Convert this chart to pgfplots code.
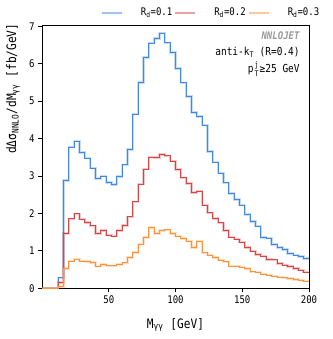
\documentclass[border=0pt]{standalone}
\usepackage{fontspec}
\setmainfont{DejaVu Sans Mono}[FakeStretch=0.86]
\usepackage{pgfplots}
\pgfplotsset{compat=1.18}
\definecolor{cblue}{RGB}{66,136,222}
\definecolor{cred}{RGB}{214,70,70}
\definecolor{corange}{RGB}{255,146,60}

\begin{document}
\begin{tikzpicture}
\useasboundingbox (-42pt,-50.7pt) rectangle (290pt,288.3pt);
\begin{axis}[
    at={(0,0)}, anchor=south west,
    width=267pt, height=263pt, scale only axis,
    xmin=0, xmax=200, ymin=0, ymax=7.03,
    xtick={50,100,150,200}, ytick={0,1,2,3,4,5,6,7},
    tick align=outside, major tick length=4pt,
    xtick pos=bottom, ytick pos=left,
    axis line style={line width=0.8pt},
    tick style={line width=0.8pt, black},
    /pgf/number format/assume math mode=true,
    ticklabel style={font=\fontsize{10.5}{12}\selectfont},
    xlabel={M\textsubscript{γγ} [GeV]},
    ylabel={dΔσ\textsubscript{NNLO}/dM\textsubscript{γγ}  [fb/GeV]},
    label style={font=\fontsize{13}{15}\selectfont},
    xlabel style={at={(axis description cs:0.5,-0.1395)}, anchor=center},
    ylabel style={at={(axis description cs:-0.1086,1.02)}, anchor=east},
    legend columns=3,
    legend style={at={(1.058,1.048)}, anchor=east, draw=none, fill=none,
        font=\fontsize{10.5}{12}\selectfont,
        /tikz/every odd column/.append style={column sep=16pt}},
    legend image code/.code={\draw[#1, line width=2pt, opacity=0.5] (0pt,0pt) -- (20pt,0pt);},
]
% blue, R_d=0.1
\addplot[const plot mark left, cblue, line width=2.4pt, opacity=0.3, forget plot] coordinates {
(0,0)(4,0)(8,0)(12,0.28)(16,2.88)(20,3.77)(24,3.93)(28,3.63)(32,3.48)(36,3.21)
(40,2.93)(44,3.00)(48,2.83)(52,2.77)(56,2.99)(60,3.30)(64,3.71)(68,4.66)(72,5.50)(76,6.17)
(80,6.55)(84,6.68)(88,6.82)(92,6.56)(96,6.30)(100,5.88)(104,5.49)(108,5.13)(112,4.70)(116,4.59)
(120,4.36)(124,3.66)(128,3.37)(132,3.08)(136,2.82)(140,2.53)(144,2.37)(148,2.22)(152,1.97)(156,1.79)
(160,1.66)(164,1.36)(168,1.34)(172,1.17)(176,1.09)(180,1.04)(184,0.93)(188,0.89)(192,0.85)(196,0.80)(200,0.80)};
\addplot[const plot mark left, cblue, line width=0.9pt] coordinates {
(0,0)(4,0)(8,0)(12,0.28)(16,2.88)(20,3.77)(24,3.93)(28,3.63)(32,3.48)(36,3.21)
(40,2.93)(44,3.00)(48,2.83)(52,2.77)(56,2.99)(60,3.30)(64,3.71)(68,4.66)(72,5.50)(76,6.17)
(80,6.55)(84,6.68)(88,6.82)(92,6.56)(96,6.30)(100,5.88)(104,5.49)(108,5.13)(112,4.70)(116,4.59)
(120,4.36)(124,3.66)(128,3.37)(132,3.08)(136,2.82)(140,2.53)(144,2.37)(148,2.22)(152,1.97)(156,1.79)
(160,1.66)(164,1.36)(168,1.34)(172,1.17)(176,1.09)(180,1.04)(184,0.93)(188,0.89)(192,0.85)(196,0.80)(200,0.80)};
\addlegendentry{R\textsubscript{d}=0.1}
% red, R_d=0.2
\addplot[const plot mark left, cred, line width=2.4pt, opacity=0.3, forget plot] coordinates {
(0,0)(4,0)(8,0)(12,0.15)(16,1.46)(20,1.86)(24,1.99)(28,1.85)(32,1.76)(36,1.67)
(40,1.47)(44,1.54)(48,1.42)(52,1.39)(56,1.54)(60,1.68)(64,1.91)(68,2.31)(72,2.78)(76,3.19)
(80,3.51)(84,3.50)(88,3.58)(92,3.54)(96,3.40)(100,3.18)(104,2.95)(108,2.80)(112,2.56)(116,2.60)
(120,2.22)(124,2.02)(128,1.87)(132,1.75)(136,1.55)(140,1.37)(144,1.31)(148,1.23)(152,1.09)(156,0.99)
(160,0.90)(164,0.86)(168,0.77)(172,0.76)(176,0.66)(180,0.62)(184,0.58)(188,0.53)(192,0.49)(196,0.43)(200,0.43)};
\addplot[const plot mark left, cred, line width=0.9pt] coordinates {
(0,0)(4,0)(8,0)(12,0.15)(16,1.46)(20,1.86)(24,1.99)(28,1.85)(32,1.76)(36,1.67)
(40,1.47)(44,1.54)(48,1.42)(52,1.39)(56,1.54)(60,1.68)(64,1.91)(68,2.31)(72,2.78)(76,3.19)
(80,3.51)(84,3.50)(88,3.58)(92,3.54)(96,3.40)(100,3.18)(104,2.95)(108,2.80)(112,2.56)(116,2.60)
(120,2.22)(124,2.02)(128,1.87)(132,1.75)(136,1.55)(140,1.37)(144,1.31)(148,1.23)(152,1.09)(156,0.99)
(160,0.90)(164,0.86)(168,0.77)(172,0.76)(176,0.66)(180,0.62)(184,0.58)(188,0.53)(192,0.49)(196,0.43)(200,0.43)};
\addlegendentry{R\textsubscript{d}=0.2}
% orange, R_d=0.3
\addplot[const plot mark left, corange, line width=2.4pt, opacity=0.3, forget plot] coordinates {
(0,0)(4,0)(8,0)(12,0.05)(16,0.53)(20,0.73)(24,0.78)(28,0.73)(32,0.72)(36,0.69)
(40,0.59)(44,0.64)(48,0.60)(52,0.60)(56,0.64)(60,0.68)(64,0.82)(68,0.96)(72,1.18)(76,1.36)
(80,1.62)(84,1.47)(88,1.55)(92,1.56)(96,1.47)(100,1.39)(104,1.33)(108,1.26)(112,1.09)(116,1.26)
(120,0.95)(124,0.89)(128,0.82)(132,0.75)(136,0.71)(140,0.59)(144,0.59)(148,0.57)(152,0.53)(156,0.44)
(160,0.43)(164,0.38)(168,0.35)(172,0.33)(176,0.30)(180,0.28)(184,0.26)(188,0.24)(192,0.22)(196,0.19)(200,0.19)};
\addplot[const plot mark left, corange, line width=0.9pt] coordinates {
(0,0)(4,0)(8,0)(12,0.05)(16,0.53)(20,0.73)(24,0.78)(28,0.73)(32,0.72)(36,0.69)
(40,0.59)(44,0.64)(48,0.60)(52,0.60)(56,0.64)(60,0.68)(64,0.82)(68,0.96)(72,1.18)(76,1.36)
(80,1.62)(84,1.47)(88,1.55)(92,1.56)(96,1.47)(100,1.39)(104,1.33)(108,1.26)(112,1.09)(116,1.26)
(120,0.95)(124,0.89)(128,0.82)(132,0.75)(136,0.71)(140,0.59)(144,0.59)(148,0.57)(152,0.53)(156,0.44)
(160,0.43)(164,0.38)(168,0.35)(172,0.33)(176,0.30)(180,0.28)(184,0.26)(188,0.24)(192,0.22)(196,0.19)(200,0.19)};
\addlegendentry{R\textsubscript{d}=0.3}
\node[anchor=east, font=\fontsize{10.5}{12}\selectfont\bfseries\itshape, text=black!40] at (rel axis cs:0.978,0.959) {NNLOJET};
\node[anchor=east, font=\fontsize{11}{13}\selectfont] at (rel axis cs:0.978,0.898) {anti-k\textsubscript{T} (R=0.4)};
\node[anchor=east, font=\fontsize{11}{13}\selectfont] at (rel axis cs:0.978,0.834) {$\mathrm{p}_{\mathrm{T}}^{\mathrm{j}}$≥25 GeV};
\end{axis}
\end{tikzpicture}
\end{document}
